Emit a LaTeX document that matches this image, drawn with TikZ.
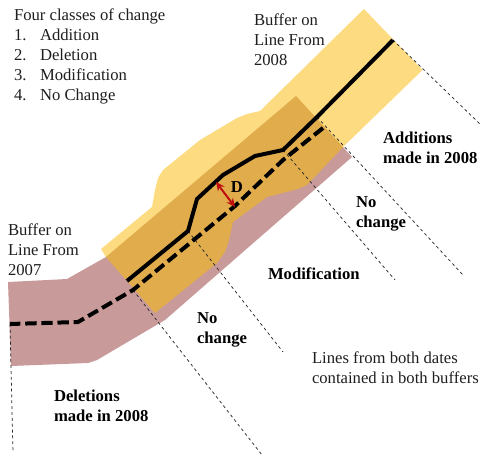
\documentclass[tikz,border=0pt]{standalone}
\usepackage{fontspec}
\setmainfont{Liberation Serif}
\usetikzlibrary{arrows.meta}
\definecolor{bufyellow}{HTML}{FDDB80}
\definecolor{bufpink}{HTML}{C99A9A}
\definecolor{bufover}{HTML}{E1AC4C}
\definecolor{txt}{HTML}{1E1E1E}
\definecolor{arrred}{HTML}{C00F0F}
\tikzset{
  lbl/.style={inner sep=0pt,outer sep=0pt,anchor=north west,align=left,text=txt,font=\fontsize{12.5}{15}\selectfont},
  blbl/.style={inner sep=0pt,outer sep=0pt,anchor=north west,align=left,text=black,font=\fontsize{12.5}{15}\selectfont\bfseries},
  line2008/.style={line width=3pt,black,line join=round},
  line2007/.style={line width=3pt,black,dash pattern=on 8.5pt off 3.6pt},
  split/.style={line width=0.55pt,black!85,dash pattern=on 2.2pt off 2.2pt}
}
\newcommand{\nm}[1]{\makebox[19.5pt][l]{#1}}
\begin{document}
\begin{tikzpicture}[x=0.75pt,y=-0.75pt]
\useasboundingbox (0,0) rectangle (482,457);
% buffers
\fill[bufyellow] (364,9) -- (422.5,70) -- (343,147) -- (106,257) -- (101,249) -- (152,207) -- (155,190) -- (158,178) -- (163,170) -- (200,140) -- (237,118) -- (247,114) -- (260,111) -- cycle;
\fill[bufpink] (8,282) -- (67,279) -- (106,257) -- (343,147) -- (352,157) -- (165,320) -- (97,360) -- (88,363) -- (11,366) -- cycle;
\fill[bufover] (106,257) -- (296,96) -- (343,147) -- (307,185) -- (298,189) -- (267,197) -- (233,222) -- (229,240) -- (225,252) -- (217,263) -- (155,313) -- cycle;
% named points
\coordinate (s1) at (393,40);
\coordinate (s2) at (317,117);
\coordinate (s3) at (283,150);
\coordinate (s4) at (188,231);
\coordinate (s5) at (133,290);
\coordinate (s6) at (10,324);
\coordinate (e1) at (481,125);
\coordinate (e2) at (463,275);
\coordinate (e3) at (395,280);
\coordinate (e4) at (283,352);
\coordinate (e5) at (262,455);
\coordinate (e6) at (13,453);
\draw[split] (s1) -- (e1);
\draw[split] (s2) -- (e2);
\draw[split] (s3) -- (e3);
\draw[split] (s4) -- (e4);
\draw[split] (s5) -- (e5);
\draw[split] (s6) -- (e6);
% lines
\draw[line2008] (s1) -- (s2) -- (s3) -- (255,156) -- (223,175) -- (197,199) -- (s4) -- (127,281);
\draw[line2007] (323,128) -- (283,160) -- (235,206) -- (s5) -- (78,322) -- (s6);
% D marker
\coordinate (d1) at (216,182);
\coordinate (d2) at (235,207);
\draw[arrred,line width=1.5pt,{Stealth[length=6.5pt,width=6pt]}-{Stealth[length=6.5pt,width=6pt]}] (d1) -- (d2);
\node[blbl,anchor=center] (dlab) at (237,187) {D};
% texts
\node[lbl] (classes) at (14,6) {\strut Four classes of change\\\nm{1.}Addition\\\nm{2.}Deletion\\\nm{3.}Modification\\\nm{4.}No Change};
\node[lbl] (b2008) at (254,11) {\strut Buffer on\\Line From\\2008};
\node[lbl] (b2007) at (8,221) {\strut Buffer on\\Line From\\2007};
\node[blbl] (add) at (383,129) {\strut Additions\\made in 2008};
\node[blbl] (nc1) at (356,193) {\strut No\\change};
\node[blbl] (mod) at (268,265) {\strut Modification};
\node[blbl] (nc2) at (197,309) {\strut No\\change};
\node[lbl] (both) at (312,349) {\strut Lines from both dates\\contained in both buffers};
\node[blbl] (del) at (54,387) {\strut Deletions\\made in 2008};
\end{tikzpicture}
\end{document}
